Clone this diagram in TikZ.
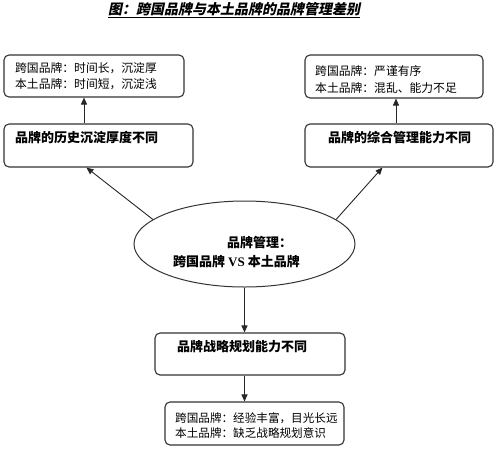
\documentclass[tikz,border=0pt]{standalone}
\usepackage{fontspec}
\setmainfont{Liberation Serif}
\newfontfamily\cjk{Noto Sans CJK SC}
\usetikzlibrary{shapes.geometric,arrows.meta,calc}
\tikzset{
  box/.style={draw=black!80, line width=1.1pt, rounded corners=5pt, inner sep=0pt},
  ell/.style={draw=black!80, line width=1pt, ellipse, inner sep=0pt, minimum width=221pt, minimum height=86pt},
  txt/.style={inner sep=0pt, anchor=west, align=left, font=\cjk\fontsize{11.8}{16.5}\selectfont},
  btxt/.style={inner sep=0pt, anchor=west, align=left, font=\cjk\bfseries\fontsize{13}{19}\selectfont},
  arr/.style={draw=black!85, line width=0.9pt, -{Triangle[length=7pt,width=6pt]}}
}
\begin{document}
\begin{tikzpicture}[x=1pt,y=-1pt]
\useasboundingbox (0,0) rectangle (500,451);
% title
\node[inner sep=0pt, font=\cjk\bfseries\fontsize{14}{16}\selectfont] (title) at (234,10)
  {\underline{\addfontfeature{FakeSlant=0.2}图：跨国品牌与本土品牌的品牌管理差别}};
% boxes
\node[box, minimum width=180pt, minimum height=42pt] (b1) at (94,76) {};
\node[box, minimum width=189pt, minimum height=43pt] (b2) at (98.5,145.5) {};
\node[box, minimum width=178pt, minimum height=43pt] (r1) at (394,76.5) {};
\node[box, minimum width=188pt, minimum height=43pt] (r2) at (399,145.5) {};
\node[box, minimum width=190pt, minimum height=42pt] (b3) at (250,354) {};
\node[box, minimum width=179pt, minimum height=43pt] (b4) at (254.5,423.5) {};
\node[ell] (e) at (244.5,244) {};
% texts
\node[txt] (t1) at (15,76.3) {跨国品牌：时间长，沉淀厚\\本土品牌：时间短，沉淀浅};
\node[btxt] (t2) at (15,138) {品牌的历史沉淀厚度不同};
\node[txt] (t3) at (315,79.3) {跨国品牌：严谨有序\\本土品牌：混乱、能力不足};
\node[btxt] (t4) at (328,138) {品牌的综合管理能力不同};
\node[btxt] (t5) at (177,347) {品牌战略规划能力不同};
\node[txt, font=\cjk\fontsize{11.6}{15}\selectfont] (t6) at (175,425.5) {跨国品牌：经验丰富，目光长远\\本土品牌：缺乏战略规划意识};
\node[btxt] (t7) at (173,252.5) {\hspace*{54pt}品牌管理：\\跨国品牌\ {\rmfamily\bfseries VS}\ 本土品牌};
% connectors
\coordinate (xl) at (84,0);
\coordinate (xr) at (396,0);
\draw[arr] (b2.north -| xl) -- (b1.south -| xl);
\draw[arr] (r2.north -| xr) -- (r1.south -| xr);
\draw[arr] (e.165) -- ($(b2.south west)+(83,0)$);
\draw[arr] (e.15) -- ($(r2.south west)+(78,0)$);
\draw[arr] (e.south) -- (e.south |- b3.north);
\draw[arr] (e.south |- b3.south) -- (e.south |- b4.north);
\end{tikzpicture}
\end{document}
